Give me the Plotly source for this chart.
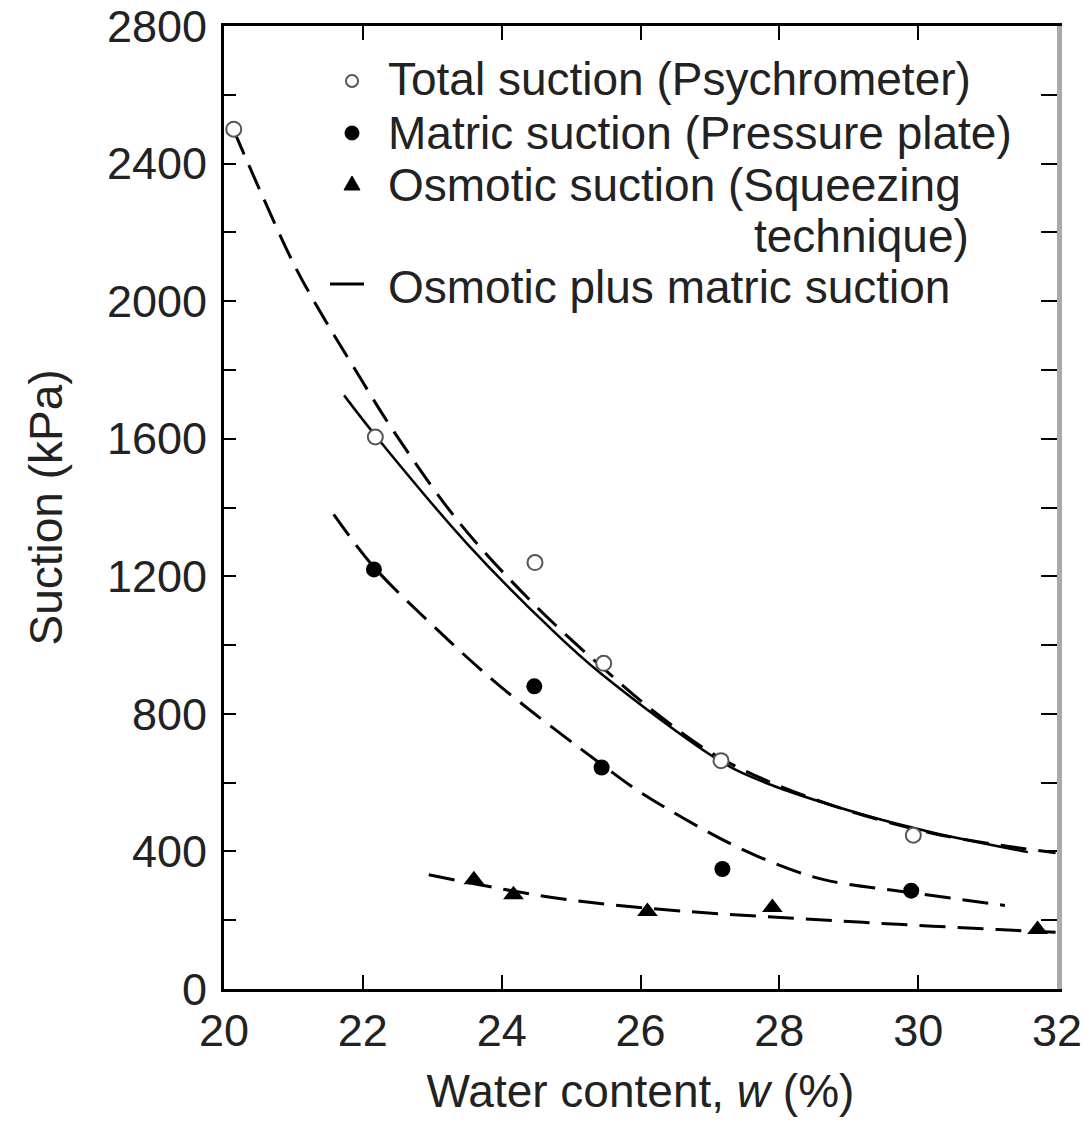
import plotly.graph_objects as go

# Measured data points (water content w in %, suction in kPa)
total_w = [20.14, 22.18, 24.48, 25.47, 27.16, 29.93]
total_s = [2500, 1605, 1240, 947, 664, 447]

matric_w = [22.16, 24.47, 25.44, 27.18, 29.90]
matric_s = [1220, 880, 644, 349, 286]

osmotic_w = [23.60, 24.17, 26.10, 27.90, 31.72]
osmotic_s = [318, 274, 225, 237, 173]

# Fitted curves
total_fit_w = [21.73, 22.21, 23.51, 24.70, 25.42, 27.18, 27.81, 29.24, 30.19, 31.58]
total_fit_s = [1726, 1602, 1293, 1049, 919, 659, 599, 505, 456, 398]

sum_fit_w = [20.14, 20.54, 21.02, 21.36, 21.88, 22.45, 23.41, 24.46, 25.42, 26.30, 27.18, 28.50, 30.20, 31.98]
sum_fit_s = [2497, 2312, 2102, 1978, 1804, 1620, 1351, 1120, 940, 790, 668, 552, 453, 396]

matric_fit_w = [21.58, 22.16, 23.02, 23.98, 25.46, 26.03, 27.32, 28.20, 28.75, 29.90, 31.25]
matric_fit_s = [1380, 1227, 1055, 880, 650, 568, 420, 345, 313, 280, 243]

osmotic_fit_w = [22.95, 23.84, 24.94, 26.70, 28.28, 29.71, 31.15, 31.98]
osmotic_fit_s = [332, 297, 260, 225, 205, 188, 173, 165]

x_ticks = [20, 22, 24, 26, 28, 30, 32]

legend_labels = ["Total suction (Psychrometer)", "Matric suction (Pressure plate)",
                 "Osmotic suction (Squeezing", "technique)", "Osmotic plus matric suction"]

FONT = "Liberation Sans, Arial, Helvetica, sans-serif"
INK = "#222222"
FS = 45
LFS = 46
DASH = "26px,12px"

# Plot area in pixels (for placing the key)
L, R, T, B = 224, 1057, 26, 989
W, H = 1087, 1121


def px(x):
    return (x - L) / (R - L)


def py(y):
    return (B - y) / (B - T)


fig = go.Figure()

# Curves
fig.add_trace(go.Scatter(x=total_fit_w, y=total_fit_s, mode="lines",
                         line=dict(color="black", width=2.5, shape="spline", smoothing=1.0),
                         showlegend=False, hoverinfo="skip"))
for cw, cs in [(sum_fit_w, sum_fit_s), (matric_fit_w, matric_fit_s), (osmotic_fit_w, osmotic_fit_s)]:
    fig.add_trace(go.Scatter(x=cw, y=cs, mode="lines",
                             line=dict(color="black", width=3, dash=DASH, shape="spline", smoothing=1.0),
                             showlegend=False, hoverinfo="skip"))

# Measured points
fig.add_trace(go.Scatter(x=total_w, y=total_s, mode="markers", name=legend_labels[0], showlegend=False,
                         marker=dict(symbol="circle", size=15, color="white", line=dict(color="#555555", width=2))))
fig.add_trace(go.Scatter(x=matric_w, y=matric_s, mode="markers", name=legend_labels[1], showlegend=False,
                         marker=dict(symbol="circle", size=16, color="black")))
fig.add_trace(go.Scatter(x=osmotic_w, y=osmotic_s, mode="markers", name=legend_labels[2], showlegend=False,
                         marker=dict(symbol="triangle-up", size=18, color="black")))

# Right-hand axis carrying inward ticks
fig.add_trace(go.Scatter(x=[None], y=[None], yaxis="y2", showlegend=False, hoverinfo="skip"))

# Key: text lines
key_text_y = [77, 131, 183, 234, 285]
key_text_x = [386, 386, 386, 752, 386]
annotations = []
for label, tx, ty in zip(legend_labels, key_text_x, key_text_y):
    annotations.append(dict(text=label, x=px(tx), y=py(ty + 2), xref="paper", yref="paper",
                            xanchor="left", yanchor="middle", showarrow=False,
                            font=dict(family=FONT, size=LFS, color=INK)))

# Key: symbols
shapes = [
    dict(type="circle", xref="paper", yref="paper", x0=px(346), x1=px(358), y0=py(87), y1=py(75),
         line=dict(color="#555555", width=2), fillcolor="white"),
    dict(type="circle", xref="paper", yref="paper", x0=px(345), x1=px(359), y0=py(140), y1=py(126),
         line=dict(color="black", width=1), fillcolor="black"),
    dict(type="path", xref="paper", yref="paper",
         path=f"M {px(344)} {py(190)} L {px(360)} {py(190)} L {px(352)} {py(176)} Z",
         line=dict(color="black", width=1), fillcolor="black"),
    dict(type="line", xref="paper", yref="paper", x0=px(330), x1=px(364), y0=py(284), y1=py(284),
         line=dict(color="black", width=3)),
]

fig.update_layout(
    width=W, height=H,
    margin=dict(l=L, r=W - R, t=T, b=H - B),
    paper_bgcolor="white", plot_bgcolor="white",
    font=dict(family=FONT, size=FS, color=INK),
    showlegend=False,
    annotations=annotations,
    shapes=shapes,
    xaxis=dict(range=[20, 32], tickvals=x_ticks, ticks="inside", ticklen=14, tickwidth=2,
               tickcolor="black", showline=True, linecolor="black", linewidth=3, mirror="ticks",
               showgrid=False, zeroline=False, tickfont=dict(size=FS, color=INK), automargin=False,
               ticklabeloverflow="allow",
               title=dict(text="Water content, <i>w</i> (%)", font=dict(size=46, color=INK), standoff=20)),
    yaxis=dict(range=[0, 2800], dtick=400, tick0=0, ticks="inside", ticklen=12, tickwidth=2, tickcolor="black",
               minor=dict(dtick=200, ticks="inside", ticklen=12, tickwidth=2, tickcolor="black"),
               showline=True, linecolor="black", linewidth=3, showgrid=False, zeroline=False,
               tickfont=dict(size=FS, color=INK), automargin=False, ticklabeloverflow="allow",
               ticklabelstandoff=5,
               title=dict(text="Suction (kPa)", font=dict(size=46, color=INK), standoff=30)),
    yaxis2=dict(range=[0, 2800], overlaying="y", side="right", dtick=200, ticks="inside", ticklen=16, tickwidth=2,
                tickcolor="black", showticklabels=False, showline=True, linecolor="#aaaaaa", linewidth=5,
                showgrid=False, zeroline=False, automargin=False),
)

fig.write_html("out.html")
